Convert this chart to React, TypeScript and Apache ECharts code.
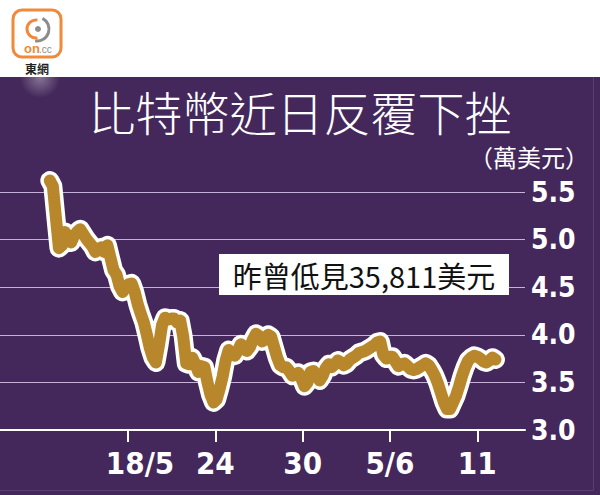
import React, { useEffect, useRef } from "react";
import * as echarts from "echarts";

// Bitcoin price, unit: 10,000 USD (萬美元), one reading every 5 hours
// first reading: 12 May 15:00 (day offset relative to 18 May 00:00)
const startDay = -5.375;
const stepHours = 5;
const prices = [
  5.62, 5.56, 5.23, 4.91, 4.94, 5.08, 5.0, 4.97, 5.04, 5.08,
  5.11, 5.06, 5.01, 4.97, 4.93, 4.87, 4.89, 4.92, 4.87, 4.94,
  4.81, 4.68, 4.63, 4.51, 4.45, 4.5, 4.53, 4.54, 4.45, 4.32,
  4.22, 4.13, 4.0, 3.86, 3.76, 3.71, 3.89, 4.1, 4.18, 4.16,
  4.17, 4.17, 4.13, 4.15, 3.98, 3.7, 3.69, 3.76, 3.69, 3.61,
  3.67, 3.66, 3.5, 3.37, 3.29, 3.32, 3.43, 3.56, 3.73, 3.84,
  3.81, 3.78, 3.83, 3.9, 3.88, 3.83, 3.87, 3.95, 4.01, 3.99,
  3.93, 3.95, 4.0, 3.98, 3.87, 3.76, 3.68, 3.66, 3.66, 3.62,
  3.57, 3.58, 3.6, 3.54, 3.46, 3.5, 3.61, 3.62, 3.57, 3.52,
  3.57, 3.65, 3.69, 3.66, 3.69, 3.73, 3.71, 3.68, 3.7, 3.74,
  3.76, 3.78, 3.81, 3.82, 3.83, 3.85, 3.87, 3.89, 3.92, 3.93,
  3.79, 3.75, 3.77, 3.77, 3.72, 3.67, 3.69, 3.7, 3.67, 3.64,
  3.63, 3.64, 3.66, 3.68, 3.7, 3.68, 3.63, 3.57, 3.49, 3.39,
  3.29, 3.22, 3.22, 3.29, 3.36, 3.46, 3.57, 3.66, 3.73, 3.76,
  3.78, 3.77, 3.75, 3.72, 3.71, 3.73, 3.76, 3.74,
];

const tickDays = [0, 6, 12, 18, 24];
const tickLabels = ["18/5", "24", "30", "5/6", "11"];
const yMin = 3.0;
const yMax = 5.5;
const yStep = 0.5;

const title = "比特幣近日反覆下挫";
const unitLabel = "（萬美元）";
const note = "昨曾低見35,811美元";

const CJK = '"Noto Sans CJK TC", "Noto Sans CJK SC", sans-serif';
const NARROW = '"Liberation Sans Narrow", "DejaVu Sans Condensed", sans-serif';

export default function App() {
  const ref = useRef<HTMLDivElement>(null);

  useEffect(() => {
    if (!ref.current) return;
    const chart = echarts.init(ref.current, null, { renderer: "svg" });
    const seriesData = prices.map((p, i) => [startDay + (i * stepHours) / 24, p]);

    const option: any = {
      animation: false,
      backgroundColor: "#44285b",
      grid: {
        left: 0,
        right: 75,
        top: 192,
        bottom: 65,
        containLabel: false,
        outerBoundsMode: "none",
      },
      xAxis: {
        type: "value",
        min: -8.8,
        max: 27.28,
        splitLine: { show: false },
        axisLine: { show: true, lineStyle: { color: "#ffffff", width: 2 } },
        axisTick: {
          show: true,
          customValues: tickDays,
          length: 12,
          inside: false,
          lineStyle: { color: "#ffffff", width: 2 },
        },
        axisLabel: {
          customValues: tickDays,
          margin: 17,
          color: "#ffffff",
          fontFamily: NARROW,
          fontWeight: "bold",
          fontSize: 31,
          formatter: (v: number) => {
            const idx = tickDays.indexOf(Math.round(v));
            if (idx < 0) return "";
            if (idx === 0) return "{a|" + tickLabels[idx] + "}";
            return tickLabels[idx];
          },
          rich: {
            a: {
              color: "#ffffff",
              fontFamily: NARROW,
              fontWeight: "bold",
              fontSize: 31,
              padding: [0, 0, 0, 24],
            },
          },
        },
      },
      yAxis: {
        type: "value",
        position: "right",
        min: yMin,
        max: yMax,
        interval: yStep,
        axisLine: { show: false },
        axisTick: { show: false },
        splitLine: { show: true, lineStyle: { color: "#c4b2d8", width: 1 } },
        axisLabel: {
          margin: 6,
          color: "#ffffff",
          fontFamily: NARROW,
          fontWeight: "bold",
          fontSize: 28,
          formatter: (v: number) => v.toFixed(1),
        },
      },
      series: [
        {
          type: "line",
          data: seriesData,
          showSymbol: false,
          clip: false,
          z: 3,
          lineStyle: { color: "#ffffff", width: 19, cap: "round", join: "round" },
          silent: true,
        },
        {
          type: "line",
          data: seriesData,
          showSymbol: false,
          clip: false,
          z: 4,
          lineStyle: { color: "#b8872b", width: 12, cap: "round", join: "round" },
          silent: true,
        },
      ],
      graphic: [
        // faint frame lines
        { type: "line", z: 0, shape: { x1: 593.5, y1: 77, x2: 593.5, y2: 490.5 }, style: { stroke: "#5a3e72", lineWidth: 1 } },
        { type: "line", z: 0, shape: { x1: 0, y1: 490.5, x2: 593.5, y2: 490.5 }, style: { stroke: "#5a3e72", lineWidth: 1 } },
        // glow below logo
        {
          type: "circle",
          z: 1,
          shape: { cx: 40, cy: 78, r: 20 },
          style: {
            fill: new echarts.graphic.RadialGradient(0.5, 0.5, 0.5, [
              { offset: 0, color: "rgba(255,255,255,0.35)" },
              { offset: 1, color: "rgba(255,255,255,0)" },
            ]),
          },
        },
        // white header band
        { type: "rect", z: 1, shape: { x: 0, y: 0, width: 600, height: 77 }, style: { fill: "#ffffff" } },
        // logo
        {
          type: "rect",
          z: 2,
          shape: { x: 13, y: 10, width: 48, height: 47, r: 9 },
          style: { fill: "#ffffff", stroke: "#f08a3a", lineWidth: 3 },
        },
        {
          type: "arc",
          z: 3,
          shape: { cx: 37, cy: 29, r: 12, startAngle: -Math.PI * 0.35, endAngle: Math.PI * 0.55 },
          style: { stroke: "#8c8c8c", lineWidth: 3, fill: "none" },
        },
        {
          type: "arc",
          z: 3,
          shape: { cx: 36, cy: 29, r: 9, startAngle: Math.PI * 0.45, endAngle: Math.PI * 1.55 },
          style: { stroke: "#f08a3a", lineWidth: 3, fill: "none" },
        },
        { type: "circle", z: 3, shape: { cx: 38, cy: 29, r: 3 }, style: { fill: "#8c8c8c" } },
        {
          type: "text",
          z: 3,
          x: 24,
          y: 48,
          style: { text: "on", fill: "#f08a3a", fontSize: 13, fontWeight: "bold", fontFamily: "Arial, sans-serif", verticalAlign: "middle" },
        },
        {
          type: "text",
          z: 3,
          x: 39,
          y: 49,
          style: { text: ".cc", fill: "#8c8c8c", fontSize: 10, fontFamily: "Arial, sans-serif", verticalAlign: "middle" },
        },
        {
          type: "text",
          z: 3,
          x: 37,
          y: 68,
          style: { text: "東網", fill: "#222222", fontSize: 12, fontWeight: "bold", fontFamily: CJK, align: "center", verticalAlign: "middle" },
        },
        // title
        {
          type: "text",
          z: 5,
          x: 300,
          y: 110,
          style: { text: title, fill: "#ffffff", fontSize: 47, fontWeight: 300, fontFamily: CJK, align: "center", verticalAlign: "middle" },
        },
        {
          type: "text",
          z: 5,
          x: 529,
          y: 156,
          style: { text: unitLabel, fill: "#ffffff", fontSize: 24, fontFamily: CJK, align: "center", verticalAlign: "middle" },
        },
        // annotation box
        {
          type: "rect",
          z: 6,
          shape: { x: 219, y: 254, width: 290, height: 41 },
          style: { fill: "#ffffff" },
        },
        {
          type: "text",
          z: 7,
          x: 364,
          y: 275,
          style: { text: note, fill: "#111111", fontSize: 29, fontFamily: CJK, align: "center", verticalAlign: "middle" },
        },
      ],
    };

    chart.setOption(option);
    return () => chart.dispose();
  }, []);

  return (
    <div
      ref={ref}
      style={{ position: "fixed", left: 0, top: 0, width: 600, height: 495 }}
    />
  );
}
